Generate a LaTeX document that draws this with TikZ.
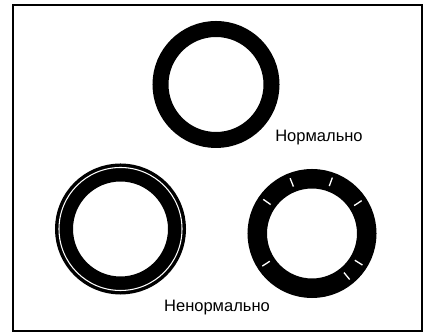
\documentclass[tikz,border=0pt]{standalone}
\usepackage{fontspec}
\setmainfont{Liberation Sans}
\usetikzlibrary{positioning}

\begin{document}
\begin{tikzpicture}[x=0.02cm, y=0.02cm,
  every node/.style={font=\fontsize{9.4}{11}\selectfont, inner sep=0pt},
  ring/.style={draw=black, line width=#1},
  gap/.style={draw=white, line width=0.6pt},
  nick/.style={draw=white, line width=0.75pt}
]
\useasboundingbox (0,0) rectangle (425,333);
\draw[line width=1.1pt] (13,2) rectangle (422,328);

% ring centres
\coordinate (good) at (216,248.5);
\coordinate (badleft) at (120.5,104);
\coordinate (badright) at (312,99.5);

\draw[ring=0.32cm] (good) circle[radius=55.5];
\draw[ring=0.36cm] (badleft) circle[radius=56.5];
\draw[gap] (badleft) circle[radius=61.5];
\draw[ring=0.39cm] (badright) circle[radius=54.75];
\foreach \a in {111.6,70,33.5,145,-146.7,-32,-50.7}
  \draw[nick] ([shift={(\a:50.5)}]badright) -- ([shift={(\a:59.5)}]badright);

\node[anchor=base] (lblnorm) at (319,191) {Нормально};
\node[anchor=base] (lblabnorm) at (217,21) {Ненормально};
\end{tikzpicture}
\end{document}
